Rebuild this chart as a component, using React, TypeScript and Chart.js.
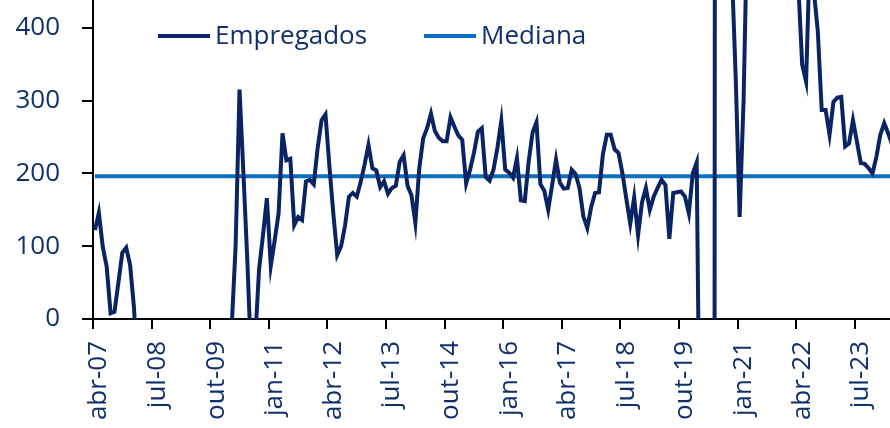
import React, { useEffect, useRef } from 'react';
import { Chart, registerables } from 'chart.js';

Chart.register(...registerables);

// ---- data ----
const startYear = 2007;
const startMonthIndex = 3; // abr
const monthNames = ['jan', 'fev', 'mar', 'abr', 'mai', 'jun', 'jul', 'ago', 'set', 'out', 'nov', 'dez'];

const empregados = [
  122, 146, 99, 72, 8, 10, 50, 91, 98, 74,
  15, -90, -140, -180, -220, -280, -380, -500, -610, -700,
  -760, -720, -690, -620, -500, -400, -330, -250, -210, -160,
  -110, -60, -40, -60, -40, -10, 100, 315, 200, 80,
  -60, -30, 68, 115, 166, 73, 108, 145, 255, 218,
  220, 129, 140, 136, 189, 191, 185, 235, 273, 281,
  210, 145, 88, 100, 128, 168, 173, 168, 188, 212,
  239, 207, 204, 181, 189, 172, 180, 183, 216, 225,
  183, 170, 132, 207, 248, 262, 282, 258, 249, 244,
  244, 277, 264, 252, 246, 186, 205, 228, 257, 262,
  195, 190, 205, 235, 272, 205, 201, 194, 221, 163,
  162, 216, 256, 270, 185, 176, 150, 184, 219, 187,
  179, 180, 205, 199, 180, 141, 125, 154, 173, 174,
  226, 253, 253, 233, 228, 200, 165, 131, 167, 115,
  160, 180, 150, 168, 180, 191, 184, 110, 173, 174,
  175, 168, 145, 200, 215, -300, -7000, -6500, -4300, 3100,
  3000, 1800, 1100, 480, 330, 140, 300, 560, 620, 700,
  600, 720, 650, 540, 680, 600, 530, 560, 500, 520,
  460, 349, 326, 510, 450, 395, 287, 287, 253, 298,
  304, 305, 237, 241, 273, 244, 214, 213, 207, 200,
  223, 253, 269, 255, 240,
];

const medianaValue = 196;

const tickLabels = [
  'abr-07', 'jul-08', 'out-09', 'jan-11', 'abr-12', 'jul-13', 'out-14',
  'jan-16', 'abr-17', 'jul-18', 'out-19', 'jan-21', 'abr-22', 'jul-23',
];

const yTickValues = [0, 100, 200, 300, 400];
const yMin = 0;
const yMax = 438;

const seriesNames = ['Empregados', 'Mediana'];

// ---- derived ----
const categories = empregados.map((_, i) => {
  const m = startMonthIndex + i;
  const yy = String((startYear + Math.floor(m / 12)) % 100).padStart(2, '0');
  return monthNames[m % 12] + '-' + yy;
});
const medianaSeries = categories.map(() => medianaValue);

const NAVY = '#0a2463';
const BLUE = '#0b70bd';
const TEXT = '#10306a';
const FONT = "'Open Sans', sans-serif";
const FONT_SIZE = 26;

const legendPlugin = {
  id: 'inlineLegend',
  afterDraw(chart: any) {
    const ctx = chart.ctx;
    const items = [
      { x: 158, color: NAVY, text: chart.data.datasets[0].label },
      { x: 424, color: BLUE, text: chart.data.datasets[1].label },
    ];
    const y = 36;
    ctx.save();
    ctx.font = `${FONT_SIZE}px ${FONT}`;
    ctx.textBaseline = 'middle';
    ctx.textAlign = 'left';
    for (const it of items) {
      ctx.strokeStyle = it.color;
      ctx.lineWidth = 4;
      ctx.beginPath();
      ctx.moveTo(it.x, y);
      ctx.lineTo(it.x + 52, y);
      ctx.stroke();
      ctx.fillStyle = TEXT;
      ctx.fillText(it.text, it.x + 57, y + 1);
    }
    ctx.restore();
  },
};

const zeroPad = (s: any) => {
  s.paddingTop = 0;
  s.paddingBottom = 0;
  s.paddingLeft = 0;
  s.paddingRight = 0;
};

export default function App() {
  const canvasRef = useRef<HTMLCanvasElement | null>(null);

  useEffect(() => {
    if (!canvasRef.current) return;
    const chart = new Chart(canvasRef.current, {
      type: 'line',
      data: {
        labels: categories,
        datasets: [
          {
            label: seriesNames[0],
            data: empregados,
            borderColor: NAVY,
            backgroundColor: NAVY,
            borderWidth: 4,
            pointRadius: 0,
            tension: 0,
            clip: 0,
            order: 1,
          },
          {
            label: seriesNames[1],
            data: medianaSeries,
            borderColor: BLUE,
            backgroundColor: BLUE,
            borderWidth: 4,
            pointRadius: 0,
            tension: 0,
            clip: 0,
            order: 2,
          },
        ],
      },
      options: {
        responsive: false,
        animation: false,
        devicePixelRatio: 1,
        layout: { padding: 0 },
        plugins: {
          legend: { display: false },
          tooltip: { enabled: false },
        },
        scales: {
          x: {
            type: 'category',
            offset: true,
            grid: {
              offset: true,
              drawOnChartArea: false,
              drawTicks: true,
              tickLength: 10,
              lineWidth: 2,
              tickWidth: 2,
              tickColor: (c: any) => (c.index % 15 === 0 ? '#000' : 'rgba(0,0,0,0)'),
              color: '#000',
            },
            border: { display: true, color: '#000', width: 2 },
            ticks: {
              autoSkip: false,
              maxRotation: 90,
              minRotation: 90,
              padding: 12,
              labelOffset: 4,
              color: TEXT,
              font: { family: FONT, size: FONT_SIZE },
              callback: (_v: any, i: number) => (tickLabels.includes(categories[i]) ? categories[i] : ''),
            },
            afterFit: (s: any) => {
              s.height = 109;
              zeroPad(s);
            },
          },
          y: {
            type: 'linear',
            min: yMin,
            max: yMax,
            grid: {
              drawOnChartArea: false,
              drawTicks: true,
              tickLength: 11,
              lineWidth: 2,
              color: '#000',
            },
            border: { display: true, color: '#000', width: 2 },
            ticks: {
              padding: 22,
              color: TEXT,
              font: { family: FONT, size: FONT_SIZE },
            },
            afterBuildTicks: (s: any) => {
              s.ticks = yTickValues.map((v) => ({ value: v }));
            },
            afterFit: (s: any) => {
              s.width = 93;
              zeroPad(s);
            },
          },
        },
      },
      plugins: [legendPlugin],
    });
    return () => chart.destroy();
  }, []);

  return (
    <div style={{ position: 'absolute', left: 0, top: 0, width: 890, height: 428, overflow: 'hidden', background: '#fff' }}>
      <canvas ref={canvasRef} width={894} height={428} style={{ display: 'block' }} />
    </div>
  );
}
